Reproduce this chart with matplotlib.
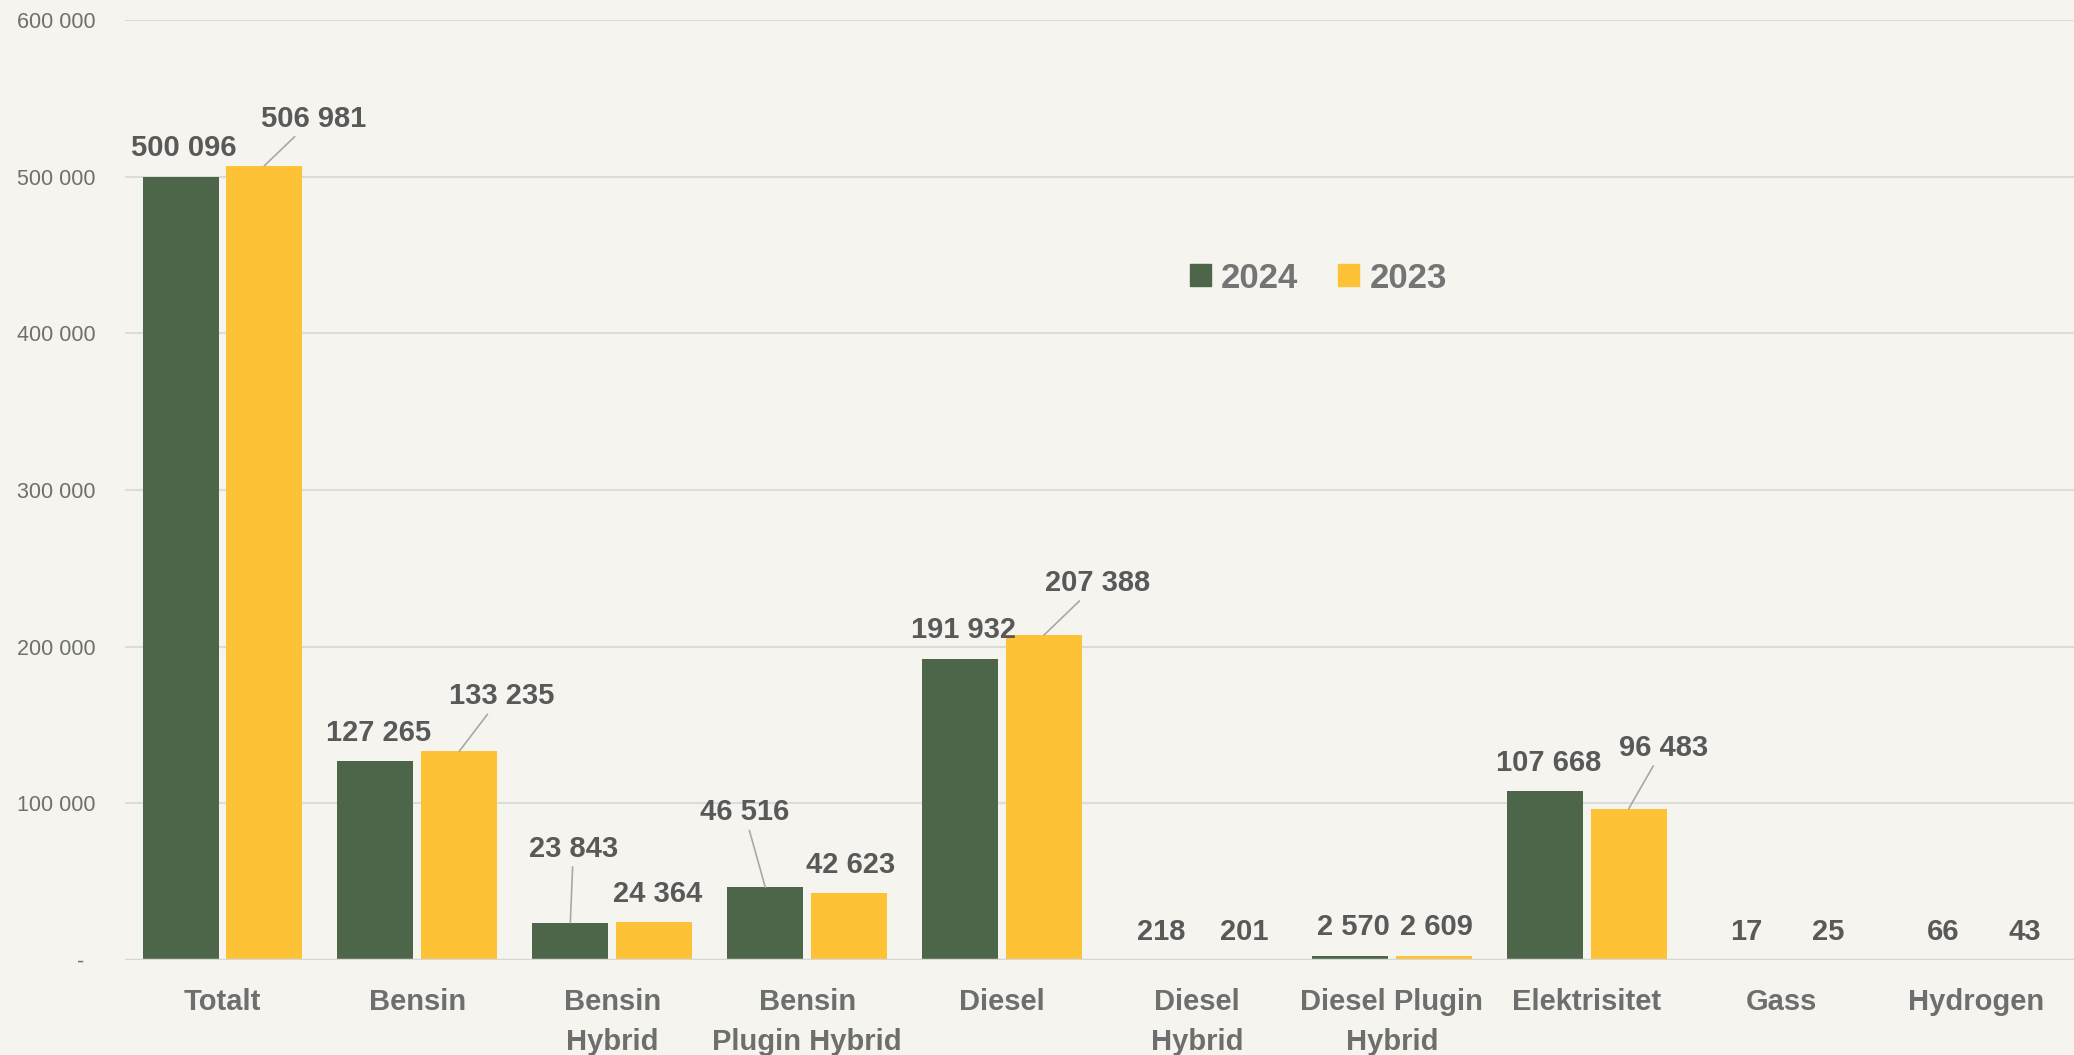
import matplotlib
matplotlib.use("Agg")
import matplotlib.pyplot as plt
from matplotlib.patches import Patch
from matplotlib.ticker import FuncFormatter
import numpy as np

# ---------------- data ----------------
categories = ["Totalt", "Bensin", "Bensin\nHybrid", "Bensin\nPlugin Hybrid", "Diesel",
              "Diesel\nHybrid", "Diesel Plugin\nHybrid", "Elektrisitet", "Gass", "Hydrogen"]
values_2024 = [500096, 127265, 23843, 46516, 191932, 218, 2570, 107668, 17, 66]
values_2023 = [506981, 133235, 24364, 42623, 207388, 201, 2609, 96483, 25, 43]
series_names = ["2024", "2023"]
y_ticks = [0, 100000, 200000, 300000, 400000, 500000, 600000]

# label placement (pixels relative to bar top centre, baseline) and leader lines
offsets_2024 = [(3, 21), (3, 20), (3, 66), (-21, 67), (3, 21), (6, 20), (3, 21), (4, 20), (7, 20), (8, 20)]
offsets_2023 = [(49, 39), (42, 47), (3, 20), (2, 20), (54, 44), (5, 20), (3, 21), (35, 53), (5, 20), (6, 20)]
leaders_2024 = [False, False, True, True, False, False, False, False, False, False]
leaders_2023 = [True, True, False, False, True, False, False, True, False, False]

# ---------------- style ----------------
BG = "#F5F4EE"
GREEN = "#4D6549"
YELLOW = "#FEC236"
FONT = ["Liberation Sans", "DejaVu Sans"]
plt.rcParams["font.family"] = FONT

fig = plt.figure(figsize=(20.74, 10.55), dpi=100, facecolor=BG)
ax = fig.add_axes([125 / 2074, 1 - 960 / 1055, 1 - 125 / 2074, (960 - 20) / 1055])
ax.set_facecolor(BG)

x = np.arange(len(categories))
w = 0.39
off = 0.215
b1 = ax.bar(x - off, values_2024, width=w, color=GREEN, zorder=3)
b2 = ax.bar(x + off, values_2023, width=w, color=YELLOW, zorder=3)

ax.set_xlim(-0.5, len(categories) - 0.5)
ax.set_ylim(0, 600000)
ax.set_yticks(y_ticks)


def fmt(v, pos=None):
    if v == 0:
        return "-  "
    return f"{int(v):,}".replace(",", " ")


ax.yaxis.set_major_formatter(FuncFormatter(fmt))
ax.tick_params(axis="y", length=0, pad=21, labelsize=15.5, labelcolor="#6F6F6F")
ax.set_xticks(x)
ax.set_xticklabels(categories, fontsize=21, fontweight="bold", color="#6E6E6E", linespacing=1.55)
ax.tick_params(axis="x", length=0, pad=20)

for s in ax.spines.values():
    s.set_visible(False)
for t in y_ticks[1:]:
    ax.axhline(t, color="#DCDCDA", lw=1.5, zorder=1)
ax.axhline(0, color="#D6D6D4", lw=2.5, zorder=4)


def label(bars, vals, offs, leads):
    for rect, v, (dx, dy), lead in zip(bars, vals, offs, leads):
        xc = rect.get_x() + rect.get_width() / 2
        kw = {}
        if lead:
            kw["arrowprops"] = dict(arrowstyle="-", color="#A8A8A8", lw=1.2, shrinkA=1, shrinkB=0)
        ax.annotate(fmt(v), xy=(xc, v), xytext=(dx, dy), textcoords="offset pixels",
                    ha="center", va="baseline", fontsize=21, fontweight="bold", color="#595959",
                    bbox=dict(boxstyle="square,pad=0.1", fc="none", ec="none"), zorder=5, **kw)


label(b1, values_2024, offsets_2024, leaders_2024)
label(b2, values_2023, offsets_2023, leaders_2023)

handles = [Patch(color=GREEN), Patch(color=YELLOW)]
fig.legend(handles, series_names, loc="center left", bbox_to_anchor=(1190 / 2074, 1 - 278 / 1055),
           ncol=2, frameon=False, borderpad=0, borderaxespad=0, handlelength=0.6, handleheight=0.6,
           handletextpad=0.3, columnspacing=1.15,
           prop=dict(family=FONT, size=25, weight="bold"), labelcolor="#747474")

fig.savefig("out.png", dpi=100, facecolor=BG)
